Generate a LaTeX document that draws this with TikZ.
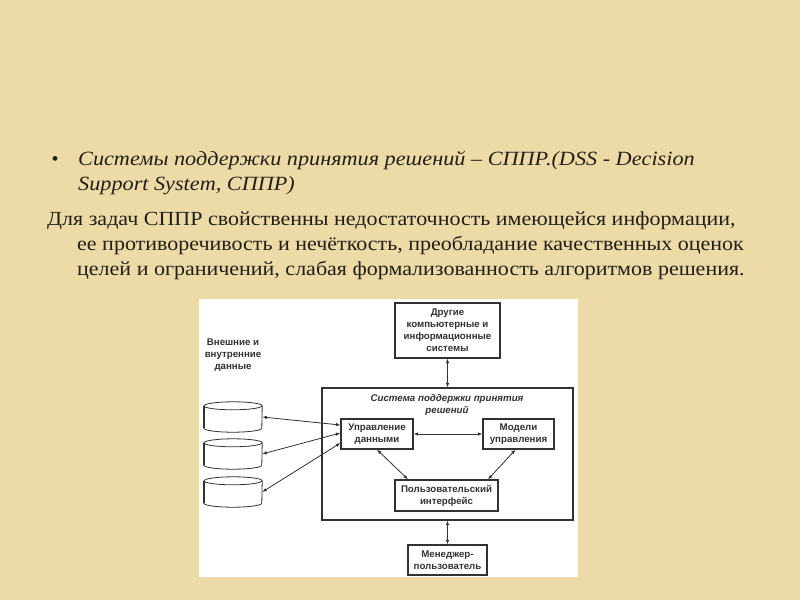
\documentclass[tikz,border=0pt]{standalone}
\usepackage{fontspec}
\setmainfont{Liberation Serif}
\newfontfamily\diafont{Liberation Sans}
\usepackage{tikz}
\usetikzlibrary{arrows.meta,calc}
\definecolor{paper}{RGB}{236,219,166}
\definecolor{ink}{RGB}{35,30,25}
\definecolor{dline}{RGB}{50,50,50}
\newcommand{\wide}[1]{\scalebox{1.1}[1]{#1}}

\begin{document}
\begin{tikzpicture}[
    x=1pt,
    y=-1pt,
    >={Latex[length=4.5pt,width=3.5pt]},
    slidetext/.style={anchor=base west, inner sep=0pt, text=ink, font=\fontsize{20}{24}\selectfont},
    slideital/.style={slidetext, font=\itshape\fontsize{20.2}{24}\selectfont},
    block/.style={draw=dline, line width=1.2pt, fill=white, align=center, text=dline, inner sep=0pt, font=\diafont\bfseries\fontsize{9.7}{12}\selectfont},
    caption/.style={text=dline, align=center, inner sep=0pt, font=\diafont\bfseries\fontsize{9.7}{12}\selectfont},
    store/.style={minimum width=58pt, minimum height=22pt, inner sep=0pt},
    link/.style={<->, draw=dline, line width=0.8pt}
]

\useasboundingbox (0,0) rectangle (800,600);
\fill[paper] (0,0) rectangle (800,600);

% --- Текст слайда ---
\node[slidetext] (bullet) at (51.5,165) {•};
\node[slideital] (title1) at (78,165) {\wide{Системы поддержки принятия решений – СППР.(DSS - Decision}};
\node[slideital] (title2) at (78,190) {\wide{Support System, СППР)}};
\node[slidetext] (body1) at (47,225) {\wide{Для задач СППР свойственны недостаточность имеющейся информации,}};
\node[slidetext] (body2) at (77,250) {\wide{ее противоречивость и нечёткость, преобладание качественных оценок}};
\node[slidetext] (body3) at (77,275) {\wide{целей и ограничений, слабая формализованность алгоритмов решения.}};

% --- Схема ---
\fill[white] (199,299) rectangle (578,577);

\node[block, minimum width=105pt, minimum height=55pt] (other) at (447.5,330.5)
    {Другие\\компьютерные и\\информационные\\системы};
\node[block, minimum width=251pt, minimum height=132pt] (dss) at (447.5,454) {};
\node[caption, font=\diafont\bfseries\itshape\fontsize{9.7}{12}\selectfont] (dsstitle) at (447,404.5)
    {Система поддержки принятия\\решений};
\node[block, minimum width=72pt, minimum height=30pt] (data) at (377,434) {Управление\\данными};
\node[block, minimum width=71pt, minimum height=30pt] (models) at (518.5,434) {Модели\\управления};
\node[block, minimum width=103pt, minimum height=31pt] (ui) at (446.5,495.5) {Пользовательский\\интерфейс};
\node[block, minimum width=79pt, minimum height=30pt] (manager) at (447.5,560) {Менеджер-\\пользователь};

\node[caption] (extlabel) at (233,355) {Внешние и\\внутренние\\данные};
\node[store] (db1) at (233,417) {};
\node[store] (db2) at (233,454) {};
\node[store] (db3) at (233,492) {};

% --- Базы данных ---
\foreach \n in {db1,db2,db3} {
    \draw[dline, line width=0.8pt, fill=white] (\n.north west) -- (\n.south west)
        arc[start angle=180, end angle=360, x radius=29pt, y radius=4pt] -- (\n.north east)
        arc[start angle=0, end angle=180, x radius=29pt, y radius=4pt];
    \draw[dline, line width=0.8pt] (\n.north west) arc[start angle=180, end angle=360, x radius=29pt, y radius=4pt];
    \draw[dline, line width=1.4pt] (\n.north west) -- (\n.south west);
}

% --- Связи ---
\draw[link] (other) -- (dss);
\draw[link] (dss) -- (manager);
\draw[link] (data) -- (models);
\draw[link] (data.south) -- ([xshift=-38.5pt]ui.north);
\draw[link] ([xshift=-3pt]models.south) -- ([xshift=41.5pt]ui.north);
\draw[link] (db1.east) -- ([yshift=9pt]data.west);
\draw[link] (db2.east) -- ([yshift=1pt]data.west);
\draw[link] (db3.east) -- ([yshift=-9pt]data.west);

\end{tikzpicture}
\end{document}
